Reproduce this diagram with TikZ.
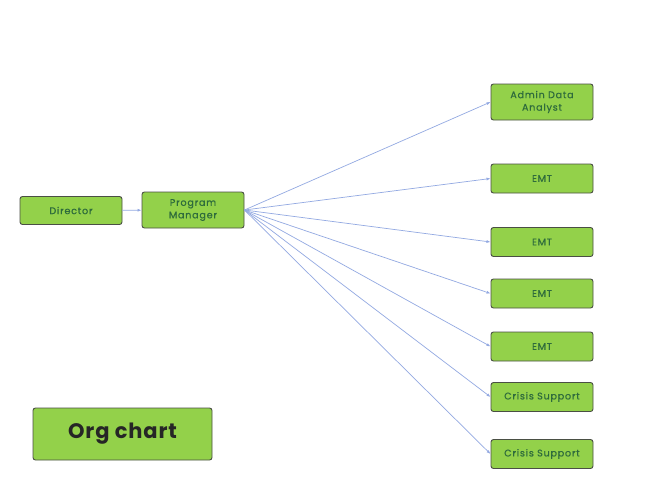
\documentclass[tikz,border=0pt]{standalone}
\usepackage{fontspec}
\setmainfont{Poppins}
\newfontfamily\rolefont[LetterSpace=8, FakeBold=0.6]{Poppins}
\newfontfamily\titlefont[LetterSpace=4]{Poppins}
\usetikzlibrary{arrows.meta,positioning}

\definecolor{boxgreen}{HTML}{93D14A}
\definecolor{boxline}{HTML}{4A4F44}
\definecolor{boxtext}{HTML}{2E6B3C}
\definecolor{linkblue}{HTML}{93A9E2}

\begin{document}
\begin{tikzpicture}[
  x=1pt, y=-1pt,
  font=\rolefont\fontsize{9.6}{12.5}\selectfont,
  role/.style={draw=boxline, line width=0.9pt, fill=boxgreen, rounded corners=2.5pt,
               align=center, text=boxtext, inner sep=1pt,
               minimum width=102pt, minimum height=29pt},
  tall/.style={role, minimum height=36pt},
  ar/.style={-{Latex[length=4pt, width=3pt]}, linkblue, line width=0.7pt}
]
\useasboundingbox (0,0) rectangle (658,499);
\fill[white] (0,0) rectangle (658,499);
\node[role, minimum height=28pt] (dir) at (71,210.5) {Director};
\node[tall] (pm) at (193,210) {Program\\Manager};
\node[tall] (ada) at (542,102) {Admin Data\\Analyst};
\node[role] (emta) at (542,178.5) {EMT};
\node[role] (emtb) at (542,242) {EMT};
\node[role] (emtc) at (542,293.5) {EMT};
\node[role] (emtd) at (542,346.5) {EMT};
\node[role] (crsa) at (542,397) {Crisis Support};
\node[role] (crsb) at (542,454) {Crisis Support};
\node[draw=boxline, line width=0.9pt, fill=boxgreen, rounded corners=2.5pt,
      minimum width=179pt, minimum height=52pt,
      font=\titlefont\fontsize{21}{24}\selectfont\bfseries, text=black!85] (title) at (122.5,434) {Org chart};
\draw[ar] (dir) -- (pm);
\draw[ar] (pm.east) -- (ada.west);
\draw[ar] (pm.east) -- (emta.west);
\draw[ar] (pm.east) -- (emtb.west);
\draw[ar] (pm.east) -- (emtc.west);
\draw[ar] (pm.east) -- (emtd.west);
\draw[ar] (pm.east) -- (crsa.west);
\draw[ar] (pm.east) -- (crsb.west);
\end{tikzpicture}
\end{document}
